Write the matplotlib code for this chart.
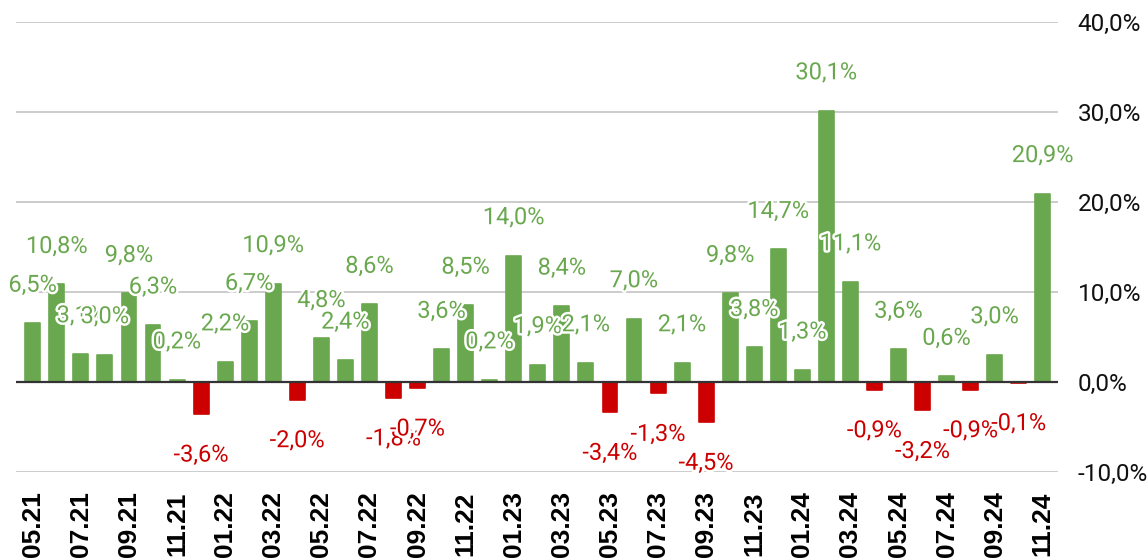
import matplotlib
matplotlib.use('Agg')

import matplotlib.pyplot as plt
import matplotlib.patheffects as pe
import numpy as np

# monthly values, 05.21 .. 11.24
months = [
    '05.21', '06.21', '07.21', '08.21', '09.21', '10.21', '11.21', '12.21',
    '01.22', '02.22', '03.22', '04.22', '05.22', '06.22', '07.22', '08.22',
    '09.22', '10.22', '11.22', '12.22',
    '01.23', '02.23', '03.23', '04.23', '05.23', '06.23', '07.23', '08.23',
    '09.23', '10.23', '11.23', '12.23',
    '01.24', '02.24', '03.24', '04.24', '05.24', '06.24', '07.24', '08.24',
    '09.24', '10.24', '11.24',
]
values = [
    6.5, 10.8, 3.1, 3.0, 9.8, 6.3, 0.2, -3.6,
    2.2, 6.7, 10.9, -2.0, 4.8, 2.4, 8.6, -1.8,
    -0.7, 3.6, 8.5, 0.2,
    14.0, 1.9, 8.4, 2.1, -3.4, 7.0, -1.3, 2.1,
    -4.5, 9.8, 3.8, 14.7,
    1.3, 30.1, 11.1, -0.9, 3.6, -3.2, 0.6, -0.9,
    3.0, -0.1, 20.9,
]
y_ticks = [-10, 0, 10, 20, 30, 40]

GREEN = '#6aa84f'
RED = '#cc0000'

fig = plt.figure(figsize=(11.48, 5.59), dpi=100)
ax = fig.add_axes([0.0139, 0.1562, 0.9077, 0.805])

x = np.arange(len(values))
vals = np.array(values)
colors = [GREEN if v >= 0 else RED for v in vals]

ax.bar(x, vals, width=0.62, color=colors, edgecolor=colors, linewidth=1.2,
       joinstyle='round', zorder=2)

# grid
for t in y_ticks:
    if t == 0:
        ax.axhline(0, color='#333333', linewidth=1.6, zorder=3)
    else:
        ax.axhline(t, color='#cccccc', linewidth=1.4, zorder=1)

# data labels
for xi, v in zip(x, vals):
    txt = f"{v:.1f}".replace('.', ',') + '%'
    dy = 38 if v >= 0 else -41
    ax.annotate(txt, (xi, v), xytext=(0, dy), textcoords='offset pixels',
                ha='center', va='center', fontsize=17, family='Roboto',
                color=GREEN if v >= 0 else RED, zorder=4,
                path_effects=[pe.withStroke(linewidth=3.5, foreground='white')])

ax.set_xlim(-0.7, len(values) - 1 + 0.63)
ax.set_ylim(-10, 40)

ax.set_yticks(y_ticks)
ax.set_yticklabels([f"{t:.1f}".replace('.', ',') + '%' for t in y_ticks],
                   fontsize=17.5, family='Roboto', color='#111111')
ax.yaxis.tick_right()
ax.tick_params(axis='y', length=0, pad=14)

ax.set_xticks(x[::2])
ax.set_xticklabels(months[::2], rotation=90, fontsize=19,
                   family='Liberation Sans', fontweight='bold')
ax.tick_params(axis='x', length=0, pad=14)

for s in ax.spines.values():
    s.set_visible(False)

plt.savefig('out.png', dpi=100)
plt.close(fig)
